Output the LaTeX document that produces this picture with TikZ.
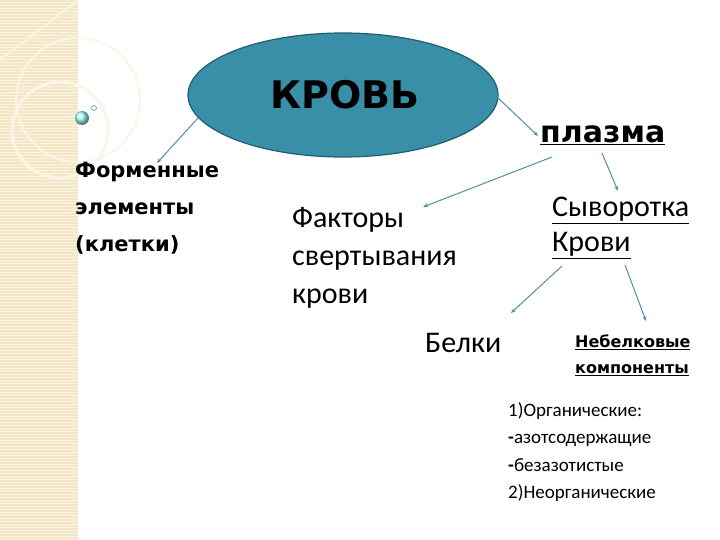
\documentclass[tikz,border=0pt]{standalone}
\usepackage{fontspec}
\setmainfont{Carlito}
\newfontfamily\vb{DejaVu Sans}
\usetikzlibrary{arrows.meta,shapes.geometric}
\definecolor{teal1}{HTML}{3A8FA8}
\definecolor{teal2}{HTML}{1E5E70}
\definecolor{conn}{HTML}{4E8FA3}
\definecolor{beige}{HTML}{F3E6C4}
\definecolor{beigel}{HTML}{FBF4E2}
\newcommand{\ul}[1]{\underline{#1}}
\begin{document}
\begin{tikzpicture}[x=1pt,y=-1pt,
  conn/.style={draw=conn,line width=1pt,-{Stealth[length=5pt,width=4pt]}},
  txt/.style={inner sep=0pt,anchor=west,align=left}]
\useasboundingbox (0,0) rectangle (720,540);
% left strip
\fill[beige] (0,0) rectangle (78,540);
\foreach \y in {2,5,...,540} \draw[beigel,line width=0.8pt] (0,\y) -- (78,\y);
\draw[white!60!beige,line width=3pt] (60,130) circle (48);
\draw[white!60!beige,line width=2pt] (78,100) circle (62);
\draw[white!50!beige,line width=2pt] (0,60) -- (78,0);
\shade[ball color=cyan!35!white] (82,118) circle (7);
\draw[conn!80,line width=0.8pt] (94,108) circle (2.5);
% ellipse
\node[ellipse,draw=teal2,line width=1.2pt,fill=teal1,minimum width=310,minimum height=124,inner sep=0pt] (krov) at (343,95) {};
\node[inner sep=0pt,font=\vb\bfseries\fontsize{38}{42}\selectfont] (kt) at (345,95) {КРОВЬ};
% texts
\node[txt,font=\vb\bfseries\fontsize{21}{37}\selectfont] (form) at (75,208) {Форменные\\элементы\\(клетки)};
\node[txt,font=\fontsize{30}{38}\selectfont] (fakt) at (292,258) {Факторы\\свертывания\\крови};
\node[txt,font=\vb\bfseries\fontsize{30}{34}\selectfont] (plaz) at (540,135) {\ul{плазма}};
\node[txt,font=\fontsize{30}{35}\selectfont] (syv) at (552,228) {\ul{Сыворотка}\\\ul{Крови}};
\node[txt,font=\fontsize{30}{34}\selectfont] (belk) at (425,343) {Белки};
\node[txt,font=\vb\bfseries\fontsize{16}{26}\selectfont] (nebel) at (575,355) {\ul{Небелковые}\\\ul{компоненты}};
\node[txt,font=\fontsize{19}{27.5}\selectfont] (list) at (508,452) {1)Органические:\\\textbf{-}азотсодержащие\\\textbf{-}безазотистые\\2)Неорганические};
% connector end points
\coordinate (k1) at (198,118);
\coordinate (f1) at (157,163);
\coordinate (k2) at (497,97);
\coordinate (p1) at (538,136);
\coordinate (p2) at (552,157);
\coordinate (fk1) at (423,207);
\coordinate (p3) at (602,153);
\coordinate (s1) at (618,191);
\coordinate (s2) at (562,266);
\coordinate (b1) at (511,313);
\coordinate (s3) at (625,265);
\coordinate (n1) at (646,321);
\draw[conn] (k1) -- (f1);
\draw[conn] (k2) -- (p1);
\draw[conn] (p2) -- (fk1);
\draw[conn] (p3) -- (s1);
\draw[conn] (s2) -- (b1);
\draw[conn] (s3) -- (n1);
\end{tikzpicture}
\end{document}
